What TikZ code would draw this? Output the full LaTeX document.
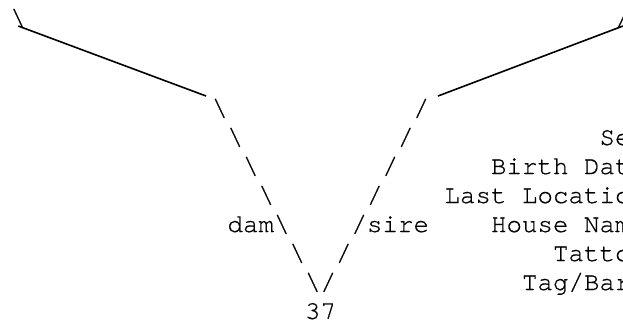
\documentclass[tikz,border=0pt]{standalone}
\usepackage{fontspec}
\newfontfamily\pedmono[FakeBold=0.6]{TeX Gyre Cursor}
\tikzset{
  ch/.style={inner sep=0pt, outer sep=0pt, anchor=base west,
    font=\pedmono\fontsize{25.83pt}{29pt}\selectfont},
  branch/.style={line width=1.6pt, black}
}
\begin{document}
\begin{tikzpicture}[x=1pt,y=-1pt]
\useasboundingbox (0,0) rectangle (623,327);
\clip (0,0) rectangle (623,327);
% top corner characters
\node[ch] (tl) at (10.5,26) {\textbackslash};
\node[ch] (tr) at (615,26) {/};
% left (dam) branch
\node[ch] (l1) at (212,116) {\textbackslash};
\node[ch] (l2) at (227.5,145) {\textbackslash};
\node[ch] (l3) at (243,174) {\textbackslash};
\node[ch] (l4) at (258.5,203) {\textbackslash};
\node[ch] (dam) at (227.5,232) {dam\textbackslash};
\node[ch] (l6) at (289.5,261) {\textbackslash};
\node[ch] (l7) at (305,290) {\textbackslash};
% right (sire) branch
\node[ch] (r1) at (413.5,116) {/};
\node[ch] (r2) at (398,145) {/};
\node[ch] (r3) at (382.5,174) {/};
\node[ch] (r4) at (367,203) {/};
\node[ch] (sire) at (351.5,232) {/sire};
\node[ch] (r6) at (336,261) {/};
\node[ch] (r7) at (320.5,290) {/};
% the animal
\node[ch] (n37) at (305,319) {37};
% info block
\node[ch] (sex) at (599.5,145) {Se};
\node[ch] (bdate) at (491,174) {Birth Dat};
\node[ch] (lloc) at (444.5,203) {Last Locatio};
\node[ch] (hname) at (491,232) {House Nam};
\node[ch] (tattoo) at (553,261) {Tatto};
\node[ch] (tag) at (522,290) {Tag/Bar};
% solid branch lines
\draw[branch] ([yshift=0pt]tl.base) -- ([xshift=-6pt,yshift=20pt]l1.base west);
\draw[branch] ([xshift=9pt,yshift=20pt]r1.base east) -- ([xshift=8pt,yshift=0pt]tr.base west);
\end{tikzpicture}
\end{document}
